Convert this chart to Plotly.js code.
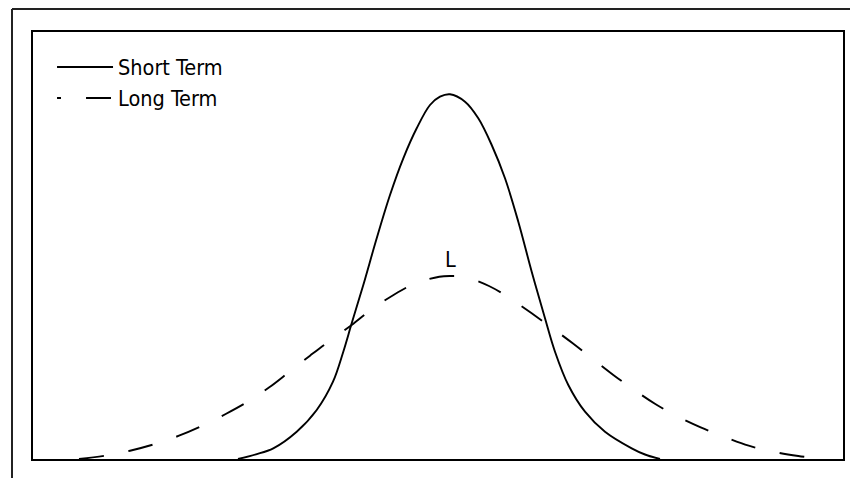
<!DOCTYPE html>
<html>
<head>
<meta charset="utf-8">
<script src="https://cdn.plot.ly/plotly-3.0.1.min.js"></script>
<style>
  html, body { margin: 0; padding: 0; background: #fff; }
  #chart { width: 850px; height: 478px; }
</style>
</head>
<body>
<div id="chart"></div>
<script>
// Series names
const seriesNames = ["Short Term", "Long Term"];
const peakLabel = "L";

// Short Term curve (x and height in chart units)
const shortX = [238, 256, 273.3, 296.7, 316.7, 333, 343.3, 351.7, 363.3, 376.7, 390, 403.3, 416.7, 430, 440, 450,
                465, 478.3, 491.7, 505, 518.3, 531.7, 545, 555, 568.3, 585, 605, 631.7, 645, 660];
const shortY = [0, 4.7, 10.7, 27.3, 49, 77.3, 107.3, 135.7, 174, 220.7, 264, 300.7, 330.7, 354, 362.3, 364.7,
                357.3, 340.7, 314, 280.7, 237.3, 187.3, 140.7, 107.3, 74, 47.3, 27.3, 10.7, 4.5, 0];

// Long Term curve
const longX = [79, 105, 130, 154, 179, 201.7, 225.7, 246.7, 269.3, 288.7, 310, 329.3, 351.7, 370.7, 392.3, 414, 439.3, 451,
               464, 489, 510, 531.7, 551.7, 572.7, 592.7, 613.3, 633.3, 655.7, 676.7, 700.7, 724, 748.7, 772.7, 798.3, 823.3];
const longY = [0, 3.3, 8.3, 14.7, 23.3, 33, 45, 56.7, 71.7, 86.7, 103.3, 118, 134, 149, 163.3, 175, 182.3, 183,
               182.3, 173, 160.7, 145.7, 131.3, 115.7, 100, 84, 69.7, 54.7, 43, 31.7, 22.3, 13.3, 7.3, 3, 0];

// Label position (peak of the long-term curve)
const labelX = 450;
const labelY = 200;

const FONT = '"DejaVu Sans Condensed", "Liberation Sans Narrow", "Arial Narrow", sans-serif';

const traces = [
  {
    x: shortX, y: shortY, name: seriesNames[0], type: 'scatter', mode: 'lines',
    line: { color: '#000', width: 1.9, shape: 'spline', smoothing: 1 },
    hoverinfo: 'skip', legendgroup: 'a'
  },
  {
    x: longX, y: longY, name: seriesNames[1], type: 'scatter', mode: 'lines',
    line: { color: '#000', width: 1.9, shape: 'spline', smoothing: 1, dash: '25px,25px' },
    hoverinfo: 'skip', legendgroup: 'b'
  }
];

const layout = {
  width: 850, height: 478,
  margin: { l: 33, r: 7, t: 32, b: 19, pad: 0 },
  paper_bgcolor: '#fff', plot_bgcolor: '#fff',
  showlegend: true,
  legend: {
    x: 0.0235, y: 0.966, xanchor: 'left', yanchor: 'top',
    bgcolor: 'rgba(0,0,0,0)', borderwidth: 0,
    itemwidth: 56, tracegroupgap: 0, traceorder: 'normal',
    font: { family: FONT, size: 21.5, color: '#000' }
  },
  xaxis: {
    range: [33, 843], showgrid: false, zeroline: false, showticklabels: false, ticks: '',
    showline: true, mirror: true, linecolor: '#000', linewidth: 2, fixedrange: true
  },
  yaxis: {
    range: [0, 427], showgrid: false, zeroline: false, showticklabels: false, ticks: '',
    showline: true, mirror: true, linecolor: '#000', linewidth: 2, fixedrange: true
  },
  annotations: [{
    x: labelX, y: labelY, xref: 'x', yref: 'y', text: peakLabel, showarrow: false,
    font: { family: FONT, size: 21.5, color: '#000' }
  }],
  shapes: [
    { type: 'line', xref: 'paper', yref: 'paper', x0: -0.02593, x1: -0.02593, y0: -0.2, y1: 1.05386,
      line: { color: '#222', width: 2 }, layer: 'below' },
    { type: 'line', xref: 'paper', yref: 'paper', x0: -0.02593, x1: 1.2, y0: 1.05386, y1: 1.05386,
      line: { color: '#222', width: 2 }, layer: 'below' }
  ]
};

Plotly.newPlot('chart', traces, layout, { staticPlot: true, displayModeBar: false }).then(function (gd) {
  // shift the dash phase of the Long Term legend key so it reads "-   —" as in the reference
  const items = gd.querySelectorAll('.legend .traces');
  if (items.length > 1) {
    items[1].querySelectorAll('path.js-line').forEach(function (p) {
      p.style.strokeDashoffset = '21px';
    });
  }
});
</script>
</body>
</html>
